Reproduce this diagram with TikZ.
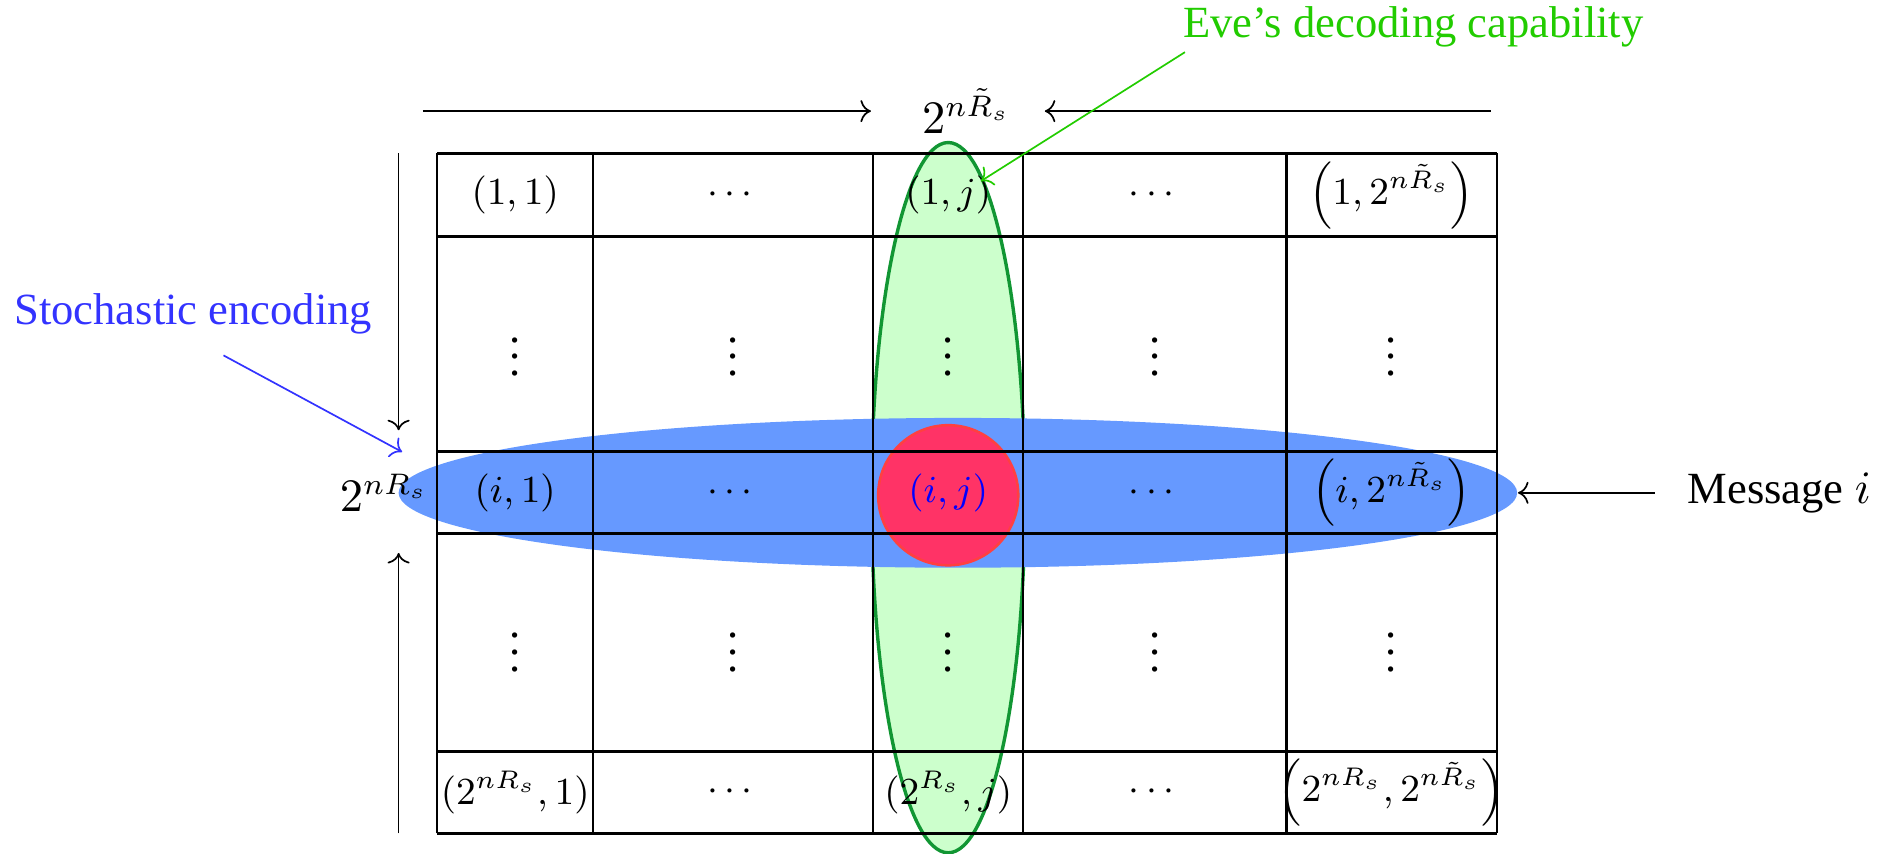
\documentclass[tikz,border=0pt]{standalone}
\usepackage{fontspec}
\setmainfont{Liberation Serif}
\usepackage{amsmath, amssymb}
\usetikzlibrary{arrows.meta, shapes.geometric, positioning}

\definecolor{encblue}{RGB}{102,153,255}
\definecolor{stochblue}{RGB}{51,51,255}
\definecolor{evefill}{RGB}{204,255,204}
\definecolor{evedraw}{RGB}{17,150,51}
\definecolor{evetext}{RGB}{34,204,0}
\definecolor{msgred}{RGB}{255,51,102}

\begin{document}
\begin{tikzpicture}[every node/.style={font=\rmfamily\fontsize{10.5}{12}\selectfont},
  cell/.style={font=\fontsize{8.8}{10}\selectfont}]
\useasboundingbox (0,0) rectangle (15.68,7.07);

% Eve's region (column j)
\node[ellipse, draw=evedraw, line width=0.8pt, fill=evefill, minimum width=1.27cm, minimum height=5.88cm, inner sep=0pt] (eveell) at (7.85,2.95) {};

% Stochastic encoding (row i)
\node[ellipse, fill=encblue, minimum width=9.26cm, minimum height=1.24cm, inner sep=0pt] (encell) at (7.93,2.99) {};

% Message (i,j)
\node[circle, draw=red!75, line width=0.6pt, fill=msgred, minimum size=1.16cm, inner sep=0pt] (msgdot) at (7.85,2.97) {};

% Grid
\foreach \y in {5.80,5.11,3.33,2.65,0.85,0.17}
  \draw[line width=0.7pt] (3.62,\y) -- (12.39,\y);
\foreach \x in {3.62,4.91,7.23,8.47,10.65,12.39}
  \draw[line width=0.5pt] (\x,0.17) -- (\x,5.80);

% Cells
\node[cell] (c11) at (4.265,5.455) {$(1,1)$};
\node[cell] (c12) at (6.07,5.455) {$\cdots$};
\node[cell] (c13) at (7.85,5.455) {$(1,j)$};
\node[cell] (c14) at (9.56,5.455) {$\cdots$};
\node[cell] (c15) at (11.52,5.455) {$\left(1,2^{n\tilde{R}_s}\right)$};

\node[cell] (c31) at (4.265,2.99) {$(i,1)$};
\node[cell] (c32) at (6.07,2.99) {$\cdots$};
\node[cell, text=blue] (c33) at (7.85,2.99) {$(i,j)$};
\node[cell] (c34) at (9.56,2.99) {$\cdots$};
\node[cell] (c35) at (11.52,2.99) {$\left(i,2^{n\tilde{R}_s}\right)$};

\node[cell] (c51) at (4.265,0.51) {$(2^{nR_s},1)$};
\node[cell] (c52) at (6.07,0.51) {$\cdots$};
\node[cell] (c53) at (7.85,0.51) {$(2^{R_s},j)$};
\node[cell] (c54) at (9.56,0.51) {$\cdots$};
\node[cell] (c55) at (11.52,0.51) {$\left(2^{nR_s},2^{n\tilde{R}_s}\right)$};

\foreach \x [count=\k] in {4.265,6.07,7.85,9.56,11.52} {
  \node (c2\k) at (\x,4.22) {$\vdots$};
  \node (c4\k) at (\x,1.77) {$\vdots$};
}

% Sizes of the code book
\node (cols) at (8.00,6.15) {$2^{n\tilde{R}_s}$};
\coordinate (tl) at (3.50,6.15);
\coordinate (tr) at (12.34,6.15);
\draw[->, shorten >=0.3cm] (tl) -- (cols);
\draw[->, shorten >=0.16cm] (tr) -- (cols);

\node (rows) at (3.18,2.99) {$2^{nR_s}$};
\coordinate (lt) at (3.30,5.80);
\coordinate (lb) at (3.30,0.17);
\draw[->, shorten >=0.24cm] (lt) -- (lt |- rows.north);
\draw[->, shorten >=0.22cm] (lb) -- (lb |- rows.south);

% Labels
\node[text=evetext] (eve) at (11.70,6.85) {Eve’s decoding capability};
\draw[->, evetext] ([shift={(0.14,0.08)}]eve.south west) -- ([shift={(0.27,0.115)}]c13.center);

\node[text=stochblue] (enc) at (1.60,4.47) {Stochastic encoding};
\draw[->, stochblue] ([shift={(0.25,-0.05)}]enc.south) -- ([shift={(-0.34,0.06)}]rows.north east);

\node (msg) at (14.73,2.99) {Message $i$};
\draw[->, shorten <=0.15cm] (msg) -- (encell);

\end{tikzpicture}
\end{document}
